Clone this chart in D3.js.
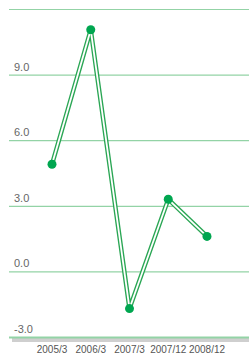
<!DOCTYPE html>
<html>
<head>
<meta charset="utf-8">
<script src="https://cdn.jsdelivr.net/npm/d3@7"></script>
<style>
body { margin: 0; background: #fff; }
svg { display: block; }
</style>
</head>
<body>
<svg width="249" height="354"></svg>
<script>
var categories = ["2005/3", "2006/3", "2007/3", "2007/12", "2008/12"];
var values = [4.9, 11.05, -1.7, 3.3, 1.6];
var yTicks = [-3, 0, 3, 6, 9, 12];
var yLabels = ["-3.0", "0.0", "3.0", "6.0", "9.0"];

var svg = d3.select("svg"),
    width = +svg.attr("width"),
    height = +svg.attr("height");

var x = d3.scalePoint()
    .domain(categories)
    .range([52, 207]);

var y = d3.scaleLinear()
    .domain([-3, 12])
    .range([337, 9]);

var g = svg.append("g");

// shadow under the baseline
g.append("rect")
    .attr("x", 12)
    .attr("y", y(-3))
    .attr("width", width - 12)
    .attr("height", 5)
    .attr("fill", "#cfcfcf");

g.selectAll("line.grid")
    .data(yTicks)
    .enter().append("line")
    .attr("class", "grid")
    .attr("x1", 9)
    .attr("x2", width)
    .attr("y1", function (d) { return y(d) + 0.5; })
    .attr("y2", function (d) { return y(d) + 0.5; })
    .attr("stroke", "#93d3a6")
    .attr("stroke-width", function (d) { return d === -3 ? 2 : 1.2; });

g.selectAll("text.ylab")
    .data(yLabels)
    .enter().append("text")
    .attr("class", "ylab")
    .attr("x", 14)
    .attr("y", function (d) { return y(+d) - 4; })
    .attr("font-family", "Liberation Sans, Arial, sans-serif")
    .attr("font-size", 11)
    .attr("fill", "#666")
    .text(function (d) { return d; });

g.selectAll("text.xlab")
    .data(categories)
    .enter().append("text")
    .attr("class", "xlab")
    .attr("x", function (d) { return x(d); })
    .attr("y", 353)
    .attr("text-anchor", "middle")
    .attr("font-family", "Liberation Sans, Arial, sans-serif")
    .attr("font-size", 10)
    .attr("fill", "#555")
    .text(function (d) { return d; });

var line = d3.line()
    .x(function (d, i) { return x(categories[i]); })
    .y(function (d) { return y(d); });

g.append("path")
    .datum(values)
    .attr("d", line)
    .attr("fill", "none")
    .attr("stroke", "#2aa654")
    .attr("stroke-width", 4.5)
    .attr("stroke-linejoin", "miter");

g.append("path")
    .datum(values)
    .attr("d", line)
    .attr("fill", "none")
    .attr("stroke", "#fff")
    .attr("stroke-width", 1.8)
    .attr("stroke-linejoin", "miter");

g.selectAll("circle")
    .data(values)
    .enter().append("circle")
    .attr("cx", function (d, i) { return x(categories[i]); })
    .attr("cy", function (d) { return y(d); })
    .attr("r", 4.5)
    .attr("fill", "#00a650");
</script>
</body>
</html>
